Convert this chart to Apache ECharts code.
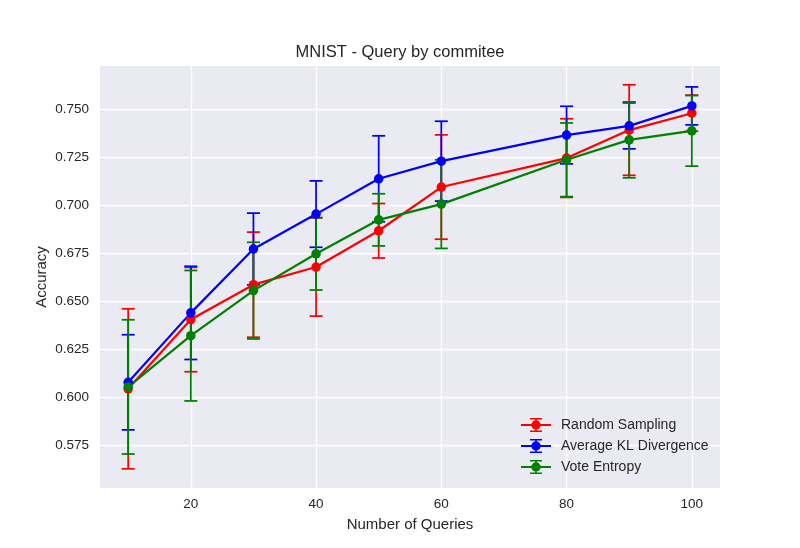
<!DOCTYPE html>
<html>
<head>
    <meta charset="utf-8">
    <title>MNIST - Query by commitee</title>
    <script src="https://cdn.jsdelivr.net/npm/echarts@6/dist/echarts.min.js"></script>
</head>
<body style="margin:0;background:#fff;">
    <div id="main" style="width:800px;height:548px;"></div>
    <script type="text/javascript">
        // number of queries on the x axis
        var queries = [10, 20, 30, 40, 50, 60, 80, 90, 100];

        // mean accuracy and error (half bar height)
        var randomMean = [0.6042, 0.6403, 0.6585, 0.6677, 0.6866, 0.7094, 0.7245, 0.7391, 0.7479];
        var randomErr  = [0.0417, 0.0272, 0.0274, 0.0256, 0.0142, 0.0272, 0.0205, 0.0236, 0.0094];

        var klMean = [0.6076, 0.6438, 0.6771, 0.6953, 0.7137, 0.7229, 0.7365, 0.7413, 0.7517];
        var klErr  = [0.0248, 0.0243, 0.0187, 0.0173, 0.0224, 0.0208, 0.0150, 0.0120, 0.0099];

        var voteMean = [0.6052, 0.6319, 0.6554, 0.6746, 0.6923, 0.7005, 0.7236, 0.7340, 0.7387];
        var voteErr  = [0.0350, 0.0340, 0.0252, 0.0189, 0.0136, 0.0231, 0.0192, 0.0198, 0.0184];

        var xTicks = [20, 40, 60, 80, 100];
        var yTicks = [0.575, 0.600, 0.625, 0.650, 0.675, 0.700, 0.725, 0.750];

        var font = 'Liberation Sans, Arial, sans-serif';
        var textColor = '#262626';

        // legend handle: line + marker + error bar with caps (30 x 14 box)
        var handleIcon = 'path://M0 6.1H30V7.9H0Z' +
            'M10.3 7A4.7 4.7 0 1 1 19.7 7A4.7 4.7 0 1 1 10.3 7Z' +
            'M14.2 0H15.8V14H14.2Z' +
            'M9 0H21V1.5H9Z' +
            'M9 12.5H21V14H9Z';

        function errData(mean, err) {
            return queries.map(function (q, i) {
                return [q, mean[i] - err[i], mean[i] + err[i]];
            });
        }

        function lineData(mean) {
            return queries.map(function (q, i) {
                return [q, mean[i]];
            });
        }

        function errRender(color) {
            return function (params, api) {
                var x = api.value(0);
                var top = api.coord([x, api.value(2)]);
                var bot = api.coord([x, api.value(1)]);
                var cap = 6.5;
                var style = { stroke: color, lineWidth: 1.75 };
                return {
                    type: 'group',
                    children: [
                        { type: 'line', shape: { x1: top[0], y1: top[1], x2: bot[0], y2: bot[1] }, style: style },
                        { type: 'line', shape: { x1: top[0] - cap, y1: top[1], x2: top[0] + cap, y2: top[1] }, style: style },
                        { type: 'line', shape: { x1: bot[0] - cap, y1: bot[1], x2: bot[0] + cap, y2: bot[1] }, style: style }
                    ]
                };
            };
        }

        function makeSeries(name, color, mean, err) {
            return [{
                name: name,
                type: 'custom',
                renderItem: errRender(color),
                itemStyle: { color: color },
                encode: { x: 0, y: [1, 2] },
                data: errData(mean, err)
            }, {
                name: name,
                type: 'line',
                symbol: 'circle',
                symbolSize: 9.5,
                itemStyle: { color: color },
                lineStyle: { color: color, width: 2.2 },
                data: lineData(mean)
            }];
        }

        var myChart = echarts.init(document.getElementById('main'));

        var option = {
            animation: false,
            backgroundColor: '#ffffff',
            textStyle: { fontFamily: font },
            title: {
                text: 'MNIST - Query by commitee',
                left: 'center',
                top: 39,
                textStyle: { fontFamily: font, fontSize: 16.5, fontWeight: 'normal', color: textColor }
            },
            legend: {
                orient: 'vertical',
                left: 521,
                top: 418,
                padding: 0,
                itemWidth: 30,
                itemHeight: 14,
                itemGap: 7,
                textStyle: { fontFamily: font, fontSize: 14, color: textColor, padding: [0, 0, 0, 5], lineHeight: 14 },
                data: [
                    { name: 'Random Sampling', icon: handleIcon, itemStyle: { color: '#ff0000' } },
                    { name: 'Average KL Divergence', icon: handleIcon, itemStyle: { color: '#0000ff' } },
                    { name: 'Vote Entropy', icon: handleIcon, itemStyle: { color: '#008000' } }
                ]
            },
            grid: {
                left: 100,
                right: 80,
                top: 66,
                bottom: 60,
                show: true,
                backgroundColor: '#EAEAF2',
                borderWidth: 0
            },
            xAxis: {
                type: 'value',
                min: 5.5,
                max: 104.5,
                name: 'Number of Queries',
                nameLocation: 'middle',
                nameGap: 29,
                nameMoveOverlap: false,
                nameTextStyle: { fontFamily: font, fontSize: 15, color: textColor },
                axisLine: { show: false },
                axisTick: { show: false, customValues: xTicks },
                axisLabel: { customValues: xTicks, margin: 9, fontFamily: font, fontSize: 13.5, color: textColor },
                splitLine: { show: true, lineStyle: { color: '#ffffff', width: 1.3 } }
            },
            yAxis: {
                type: 'value',
                min: 0.5525,
                max: 0.7725,
                name: 'Accuracy',
                nameLocation: 'middle',
                nameGap: 51,
                nameMoveOverlap: false,
                nameTextStyle: { fontFamily: font, fontSize: 15, color: textColor },
                axisLine: { show: false },
                axisTick: { show: false, customValues: yTicks },
                axisLabel: {
                    customValues: yTicks,
                    margin: 11,
                    fontFamily: font,
                    fontSize: 13.5,
                    color: textColor,
                    formatter: function (v) { return v.toFixed(3); }
                },
                splitLine: { show: true, lineStyle: { color: '#ffffff', width: 1.3 } }
            },
            series: []
                .concat(makeSeries('Random Sampling', '#ff0000', randomMean, randomErr))
                .concat(makeSeries('Average KL Divergence', '#0000ff', klMean, klErr))
                .concat(makeSeries('Vote Entropy', '#008000', voteMean, voteErr))
        };

        myChart.setOption(option);
    </script>
</body>
</html>
